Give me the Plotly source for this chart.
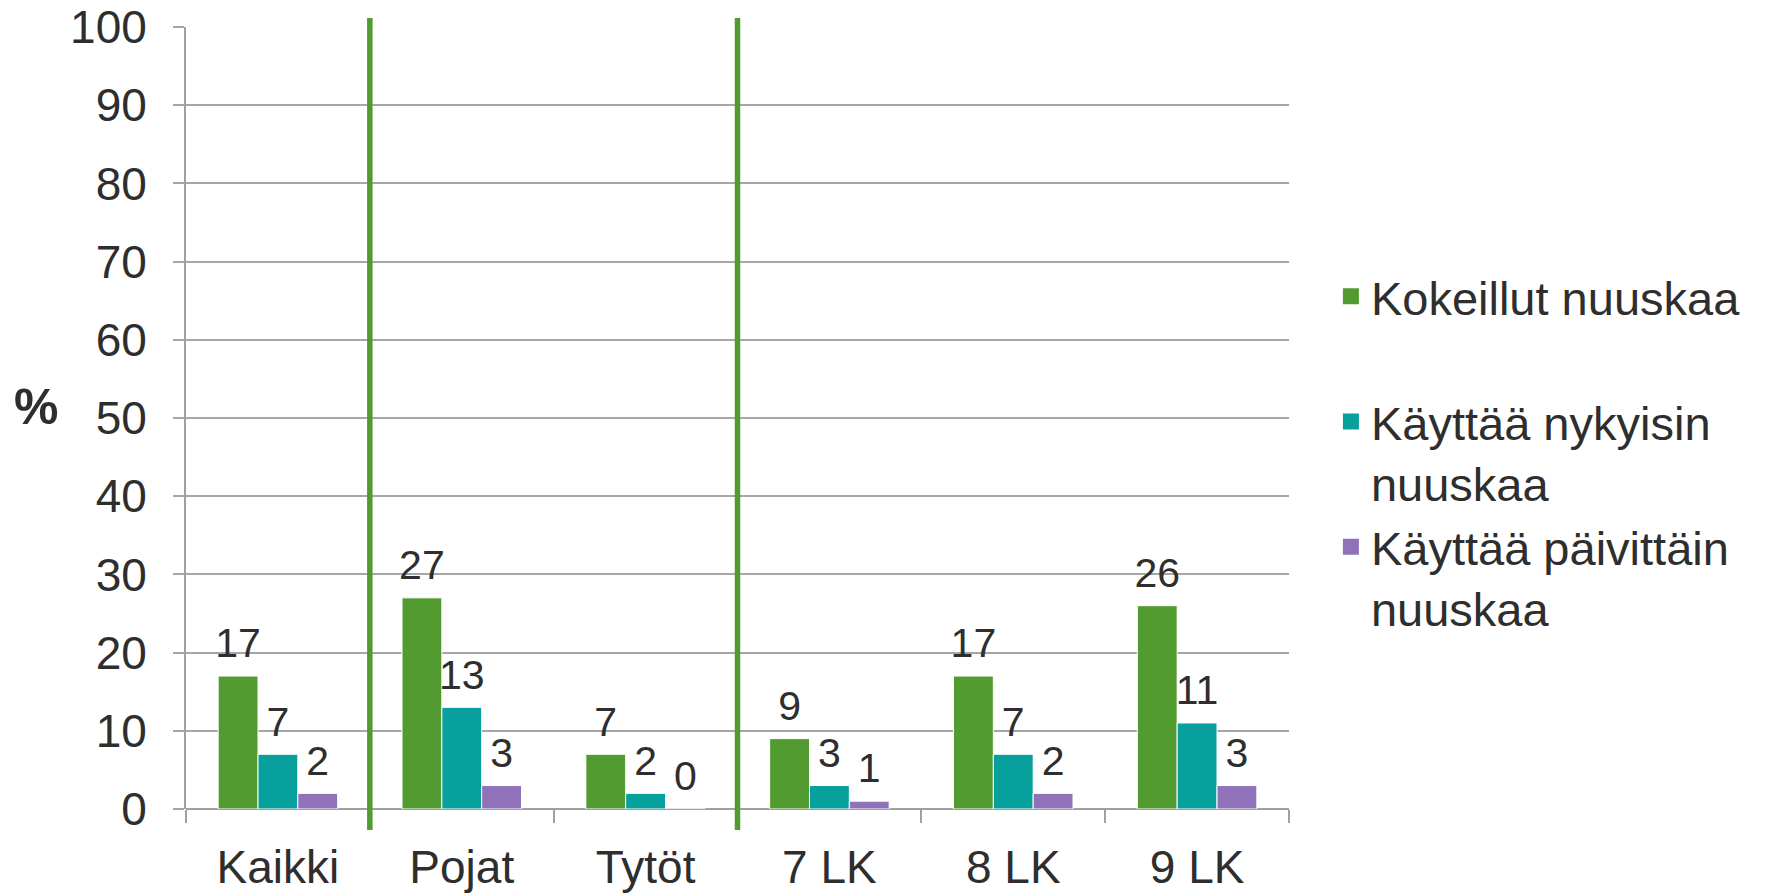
import plotly.graph_objects as go

categories = ["Kaikki", "Pojat", "Tytöt", "7 LK", "8 LK", "9 LK"]
kokeillut = [17, 27, 7, 9, 17, 26]
nykyisin = [7, 13, 2, 3, 7, 11]
paivittain = [2, 3, 0, 1, 2, 3]
series_names = ["Kokeillut nuuskaa", "Käyttää nykyisin<br>nuuskaa", "Käyttää päivittäin<br>nuuskaa"]
colors = ["#529B30", "#07A09C", "#9072BA"]
y_ticks = list(range(0, 101, 10))
divider_positions = [0.5, 2.5]

FONT = "Liberation Sans, Arial, sans-serif"
TXT = "#2E2E2E"

fig = go.Figure()
series_values = [kokeillut, nykyisin, paivittain]
for i, (name, vals, col) in enumerate(zip(series_names, series_values, colors)):
    fig.add_trace(go.Bar(
        x=categories, y=vals, name=name, showlegend=False,
        marker=dict(color=col, line=dict(color="white", width=1)),
        hoverinfo="x+y",
    ))
# data labels (grouped scatter text, aligned with bars)
for i, (name, vals) in enumerate(zip(series_names, series_values)):
    fig.add_trace(go.Scatter(
        x=categories, y=vals, mode="markers+text", showlegend=False,
        text=[str(v) for v in vals], textposition="top center",
        textfont=dict(family=FONT, size=41, color=TXT),
        marker=dict(size=12, color="rgba(0,0,0,0)"),
        offsetgroup=str(i), alignmentgroup="a", cliponaxis=False, hoverinfo="skip",
    ))
# legend entries
for i, (name, col) in enumerate(zip(series_names, colors)):
    label = name + ("<br> " if "<br>" not in name else "")
    fig.add_trace(go.Scatter(
        x=[None], y=[None], mode="markers", name=label,
        marker=dict(symbol="square", size=16, color=col),
        offsetgroup=str(i), alignmentgroup="a",
    ))

for xp in divider_positions:
    fig.add_shape(type="line", xref="x", yref="paper", x0=xp, x1=xp, y0=-0.027, y1=1.0115,
                  line=dict(color="#529B30", width=5.5), layer="above")

fig.add_annotation(text="<b>%</b>", xref="paper", yref="paper", x=-0.136, y=0.514,
                   xanchor="center", yanchor="middle",
                   showarrow=False, font=dict(family=FONT, size=50, color=TXT))

fig.update_layout(
    width=1765, height=893,
    margin=dict(l=186, r=476, t=27, b=84),
    paper_bgcolor="white", plot_bgcolor="white",
    barmode="group", bargap=0.35, bargroupgap=0,
    scattermode="group", scattergap=0.35,
    font=dict(family=FONT, color=TXT),
    legend=dict(x=1.038, y=0.703, xanchor="left", yanchor="top", valign="top",
                font=dict(family=FONT, size=47, color=TXT), tracegroupgap=0,
                bgcolor="rgba(0,0,0,0)"),
)
fig.update_xaxes(
    type="category", showgrid=False, showline=False, automargin=False,
    ticks="outside", tickson="boundaries", ticklen=13, tickcolor="#A0A0A0", tickwidth=1.5,
    tickfont=dict(family=FONT, size=46, color=TXT), ticklabelstandoff=27,
)
fig.update_yaxes(
    range=[0, 100], tickvals=y_ticks, showgrid=True, gridcolor="#A6A6A6", gridwidth=1.5,
    automargin=False,
    showline=True, linecolor="#A0A0A0", linewidth=2, zeroline=True, zerolinecolor="#A0A0A0", zerolinewidth=2,
    ticks="outside", ticklen=11, tickcolor="#A6A6A6", tickwidth=1.5,
    tickfont=dict(family=FONT, size=46, color=TXT), ticklabelstandoff=17,
)

fig.write_html("out.html", config={"displayModeBar": False},
               post_script="document.body.style.margin='0px';")
